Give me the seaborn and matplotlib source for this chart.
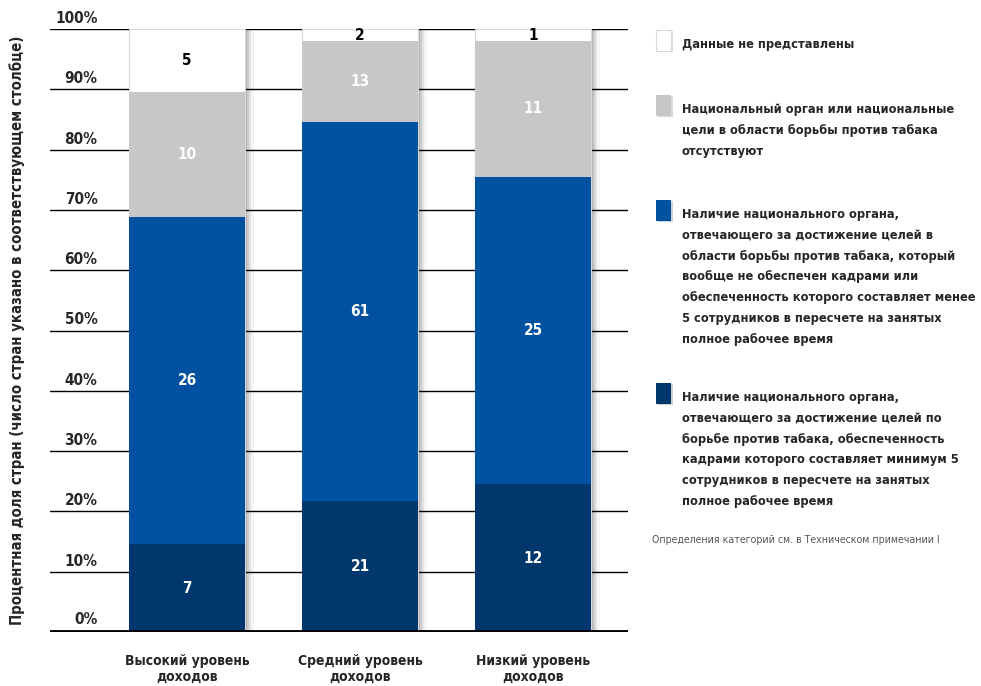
import numpy as np
import matplotlib
matplotlib.use("Agg")
import matplotlib.pyplot as plt
import matplotlib.patheffects as pe
from matplotlib.patches import Rectangle
from matplotlib import font_manager
import seaborn as sns

# === Données ===
income = ["Высокий уровень\nдоходов", "Средний уровень\nдоходов", "Низкий уровень\nдоходов"]
staffed = [7, 21, 12]          # орган с >= 5 сотрудников
understaffed = [26, 61, 25]    # орган без кадров или < 5 сотрудников
absent = [10, 13, 11]          # органа / целей нет
no_data = [5, 2, 1]            # данные не представлены

layer_names = [
    "Наличие национального органа,\nотвечающего за достижение целей по\nборьбе против табака, обеспеченность\nкадрами которого составляет минимум 5\nсотрудников в пересчете на занятых\nполное рабочее время",
    "Наличие национального органа,\nотвечающего за достижение целей в\nобласти борьбы против табака, который\nвообще не обеспечен кадрами или\nобеспеченность которого составляет менее\n5 сотрудников в пересчете на занятых\nполное рабочее время",
    "Национальный орган или национальные\nцели в области борьбы против табака\nотсутствуют",
    "Данные не представлены",
]
layer_colors = ["#00386e", "#0052a0", "#c6c7c9", "#ffffff"]
yticks = [0, 10, 20, 30, 40, 50, 60, 70, 80, 90, 100]
note = "Определения категорий см. в Техническом примечании I"

# === Police ===
sns.set_style("white")
names = {f.name for f in font_manager.fontManager.ttflist}
fam = "Liberation Sans Narrow" if "Liberation Sans Narrow" in names else "DejaVu Sans"
plt.rcParams["font.family"] = [fam, "DejaVu Sans"]
plt.rcParams["font.stretch"] = "condensed"

counts = np.array([staffed, understaffed, absent, no_data], dtype=float)
pct = counts / counts.sum(axis=0) * 100
cum = np.cumsum(pct, axis=0)

fig = plt.figure(figsize=(9.81, 6.86), dpi=100)
ax = fig.add_axes([50 / 981, 1 - 632 / 686, 578 / 981, 603 / 686])

# === Barres empilées (couches cumulées, de haut en bas) ===
shadow = [pe.SimplePatchShadow(offset=(7, 0), shadow_rgbFace="k", alpha=0.04),
          pe.SimplePatchShadow(offset=(5, 0), shadow_rgbFace="k", alpha=0.07),
          pe.SimplePatchShadow(offset=(3, 0), shadow_rgbFace="k", alpha=0.10),
          pe.SimplePatchShadow(offset=(1.5, 0), shadow_rgbFace="k", alpha=0.12),
          pe.Normal()]
for i in range(len(layer_colors) - 1, -1, -1):
    sns.barplot(x=income, y=cum[i], color=layer_colors[i], width=0.665,
                errorbar=None, ax=ax, zorder=2, saturation=1,
                edgecolor="#d8d8d8" if i == 3 else "none", linewidth=0.8 if i == 3 else 0)
    if i == 3:
        for p in ax.patches:
            p.set_path_effects(shadow)

# === Étiquettes de valeurs ===
for j in range(len(income)):
    for i in range(len(layer_colors)):
        mid = cum[i, j] - pct[i, j] / 2
        ax.text(j, mid, f"{int(counts[i, j])}", ha="center", va="center",
                color="black" if i == 3 else "white", fontsize=11, fontweight="bold", zorder=5)

# === Grille et axes ===
for t in yticks[1:]:
    ax.axhline(t, color="black", lw=1.0, zorder=0.5)
    ax.text(0.082, t + 0.5, f"{t}%", transform=ax.get_yaxis_transform(),
            ha="right", va="bottom", fontsize=11, fontweight="bold")
ax.text(0.082, 0.9, "0%", transform=ax.get_yaxis_transform(),
        ha="right", va="bottom", fontsize=11, fontweight="bold")
ax.axhline(0, color="black", lw=3.5, zorder=4)

ax.set_ylim(0, 100)
ax.set_xlim(-0.792, 2.549)
ax.set_yticks([])
ax.set_xticks(range(len(income)))
ax.set_xticklabels(income, fontsize=10, fontweight="bold", linespacing=1.15)
ax.tick_params(axis="x", length=0, pad=16)
ax.set_xlabel("")
ax.set_ylabel("")
for s in ax.spines.values():
    s.set_visible(False)
ax.patch.set_alpha(0)

fig.text(17 / 981, 1 - 330 / 686, "Процентная доля стран (число стран указано в соответствующем столбце)",
         rotation=90, ha="center", va="center", fontsize=10.7, fontweight="bold")

# === Légende manuelle ===
sq_tops = [383, 200, 95, 30]
for i in range(len(layer_colors)):
    top = sq_tops[i]
    r = Rectangle((656 / 981, 1 - (top + 21) / 686), 15 / 981, 21 / 686,
                  transform=fig.transFigure, facecolor=layer_colors[i],
                  edgecolor="#d8d8d8" if i == 3 else "none", lw=0.8,
                  path_effects=[pe.SimplePatchShadow(offset=(1.5, -1), alpha=0.2), pe.Normal()])
    fig.add_artist(r)
    fig.text(682 / 981, 1 - (top + 8) / 686, layer_names[i], ha="left", va="top",
             fontsize=9.2, fontweight="bold", linespacing=1.78)

fig.text(652 / 981, 1 - 540 / 686, note, ha="left", va="center", fontsize=7.6, color="#555555")

plt.savefig("out.png", dpi=100)
